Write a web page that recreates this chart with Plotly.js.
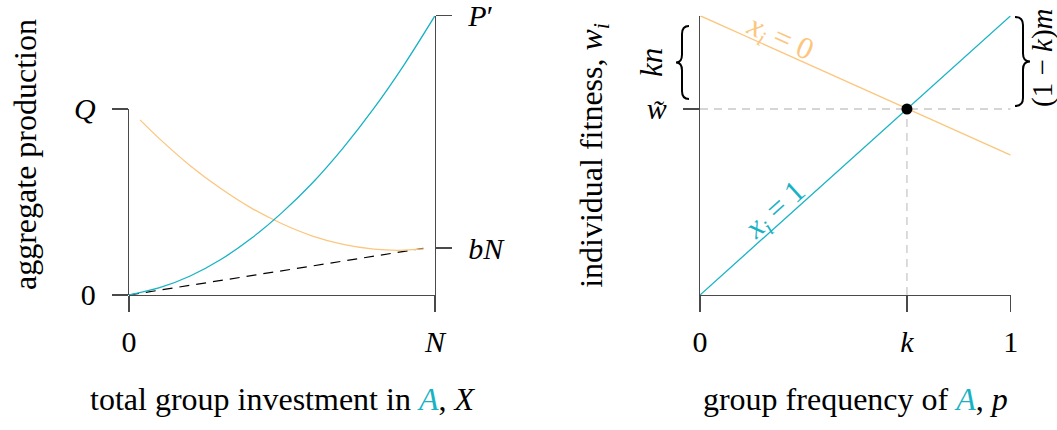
<!DOCTYPE html>
<html>
<head>
<meta charset="utf-8">
<script src="https://cdn.plot.ly/plotly-3.0.1.min.js"></script>
<style>html,body{margin:0;padding:0;background:#fff;}#chart{width:1057px;height:430px;}</style>
</head>
<body>
<div id="chart"></div>
<script>
// ---------- data (left panel: aggregate production vs X, X scaled so N = 1) ----------
const investX      = [0, 0.1, 0.2, 0.3, 0.4, 0.5, 0.6, 0.7, 0.8, 0.9, 1.0];
const productionA  = [0, 0.026, 0.068, 0.127, 0.203, 0.295, 0.402, 0.527, 0.668, 0.826, 1.0];
const investXB     = [0.036, 0.1, 0.2, 0.3, 0.4, 0.5, 0.6, 0.7, 0.8, 0.88, 0.964];
const productionB  = [0.627, 0.559, 0.463, 0.381, 0.311, 0.255, 0.211, 0.181, 0.164, 0.160, 0.165];
const dashX        = [0, 0.962];
const dashY        = [0, 0.167];
const Qval = 0.666, bNval = 0.168, Pval = 1.0;
const leftXTicks   = ['0', '<i>N</i>'];
const leftYTicks   = ['0', '<i>Q</i>'];
const rightYTicksL = ['<i>bN</i>', '<i>P</i>′'];

// ---------- data (right panel: individual fitness vs p) ----------
const freqP     = [0, 1];
const fitness1  = [0, 1];       // x_i = 1
const fitness0  = [1, 0.501];   // x_i = 0
const kVal = 0.666, wTilde = 0.666;
const rightXTicks = ['0', '<i>k</i>', '1'];
const rightYTicks = ['<i>w̃</i>'];

// ---------- styling ----------
const W = 1057, H = 430;
const TEAL = '#18b2c4', ORANGE = '#fcc67e', AX = '#4a4a4a';
const FONT = 'Liberation Serif';
const yb = 1 - 295 / H, yt = 1 - 15.7 / H;
const px = v => v / W, py = v => 1 - v / H;

const axBase = {
  showline: true, linecolor: AX, linewidth: 1.3,
  ticks: 'outside', ticklen: 16, tickwidth: 1.3, tickcolor: AX,
  showgrid: false, zeroline: false, fixedrange: true,
  tickfont: {family: FONT, size: 30, color: '#000'},
  tickmode: 'array', ticklabelstandoff: 10, ticklabeloverflow: 'allow'
};

const traces = [
  {x: dashX, y: dashY, xaxis: 'x', yaxis: 'y', mode: 'lines',
   line: {color: '#000', width: 1.2, dash: '10px,7px'}, hoverinfo: 'skip'},
  {x: investXB, y: productionB, xaxis: 'x', yaxis: 'y3', mode: 'lines',
   line: {color: ORANGE, width: 1.3, shape: 'spline'}, hoverinfo: 'skip'},
  {x: investX, y: productionA, xaxis: 'x', yaxis: 'y3', mode: 'lines',
   line: {color: TEAL, width: 1.3, shape: 'spline'}, hoverinfo: 'skip'},
  // right panel guides
  {x: [0, 1], y: [wTilde, wTilde], xaxis: 'x2', yaxis: 'y2', mode: 'lines',
   line: {color: '#c8c8c8', width: 1.3, dash: '8px,6px'}, hoverinfo: 'skip'},
  {x: [kVal, kVal], y: [0, wTilde], xaxis: 'x2', yaxis: 'y2', mode: 'lines',
   line: {color: '#c8c8c8', width: 1.3, dash: '8px,6px'}, hoverinfo: 'skip'},
  {x: freqP, y: fitness0, xaxis: 'x2', yaxis: 'y2', mode: 'lines',
   line: {color: ORANGE, width: 1.3}, hoverinfo: 'skip'},
  {x: freqP, y: fitness1, xaxis: 'x2', yaxis: 'y2', mode: 'lines',
   line: {color: TEAL, width: 1.3}, hoverinfo: 'skip'},
  {x: [kVal], y: [wTilde], xaxis: 'x2', yaxis: 'y2', mode: 'markers',
   marker: {color: '#000', size: 11}, cliponaxis: false, hoverinfo: 'skip'}
];

// brace path helper (pixel coords -> paper)
function brace(xe, xs, xt, y0, y1) {
  const ym = (y0 + y1) / 2, r = 8;
  const P = (x, y) => px(x).toFixed(5) + ',' + py(y).toFixed(5);
  return 'M ' + P(xe, y0) + ' Q ' + P(xs, y0) + ' ' + P(xs, y0 + r) +
         ' L ' + P(xs, ym - r) + ' Q ' + P(xs, ym) + ' ' + P(xt, ym) +
         ' Q ' + P(xs, ym) + ' ' + P(xs, ym + r) +
         ' L ' + P(xs, y1 - r) + ' Q ' + P(xs, y1) + ' ' + P(xe, y1);
}

const lineAt = (xs, ys, p) => ys[0] + (ys[1] - ys[0]) * (p - xs[0]) / (xs[1] - xs[0]);

const layout = {
  width: W, height: H, margin: {l: 0, r: 0, t: 0, b: 0},
  paper_bgcolor: '#fff', plot_bgcolor: 'rgba(0,0,0,0)',
  showlegend: false, font: {family: FONT, color: '#000'},
  xaxis: Object.assign({}, axBase, {
    domain: [px(129), px(435)], range: [0, 1], anchor: 'y3',
    tickvals: [0, 1], ticktext: leftXTicks, ticklabelstandoff: 4,
    title: {text: 'total group investment in <span style="color:' + TEAL + '"><i>A</i></span>, <i>X</i>',
            font: {family: FONT, size: 32, color: '#000'}, standoff: 30}
  }),
  yaxis: Object.assign({}, axBase, {
    domain: [yb, yb + Qval * (yt - yb)], range: [0, Qval], anchor: 'x', side: 'left',
    tickvals: [0, Qval], ticktext: leftYTicks
  }),
  yaxis3: Object.assign({}, axBase, {
    domain: [yb, yt], range: [0, 1], anchor: 'x', side: 'right',
    tickvals: [bNval, Pval], ticktext: rightYTicksL
  }),
  xaxis2: Object.assign({}, axBase, {
    domain: [px(700), px(1010.7)], range: [0, 1], anchor: 'y2',
    tickvals: [0, kVal, 1], ticktext: rightXTicks, ticklabelstandoff: 4,
    title: {text: 'group frequency of <span style="color:' + TEAL + '"><i>A</i></span>, <i>p</i>',
            font: {family: FONT, size: 32, color: '#000'}, standoff: 30}
  }),
  yaxis2: Object.assign({}, axBase, {
    domain: [yb, yt], range: [0, 1], anchor: 'x2', side: 'left',
    tickvals: [wTilde], ticktext: rightYTicks,
    title: {text: 'individual fitness, <i>w<sub>i</sub></i>',
            font: {family: FONT, size: 32, color: '#000'}, standoff: 34}
  }),
  annotations: [
    {xref: 'paper', yref: 'paper', x: px(25), y: py(155), text: 'aggregate production',
     textangle: -90, showarrow: false, xanchor: 'center', yanchor: 'middle',
     font: {family: FONT, size: 32, color: '#000'}},
    {xref: 'x2', yref: 'y2', x: 0.24, y: lineAt(freqP, fitness0, 0.24),
     text: '<i>x<sub>i</sub></i> = 0', textangle: 24.2, showarrow: false,
     xanchor: 'center', yanchor: 'middle', xshift: 5, yshift: 10,
     font: {family: FONT, size: 31, color: ORANGE}},
    {xref: 'x2', yref: 'y2', x: 0.27, y: lineAt(freqP, fitness1, 0.27),
     text: '<i>x<sub>i</sub></i> = 1', textangle: -42, showarrow: false,
     xanchor: 'center', yanchor: 'middle', xshift: -8, yshift: 9,
     font: {family: FONT, size: 31, color: TEAL}},
    {xref: 'paper', yref: 'paper', x: px(652), y: py(63), text: '<i>kn</i>',
     textangle: -90, showarrow: false, xanchor: 'center', yanchor: 'middle',
     font: {family: FONT, size: 31, color: '#000'}},
    {xref: 'paper', yref: 'paper', x: px(1042), y: py(58), text: '(1 − <i>k</i>)<i>m</i>',
     textangle: -90, showarrow: false, xanchor: 'center', yanchor: 'middle',
     font: {family: FONT, size: 29, color: '#000'}}
  ],
  shapes: [
    {type: 'path', xref: 'paper', yref: 'paper', path: brace(689, 682, 676, 26, 99),
     line: {color: '#000', width: 2}},
    {type: 'path', xref: 'paper', yref: 'paper', path: brace(1015, 1023, 1030, 17, 106),
     line: {color: '#000', width: 2}}
  ]
};

Plotly.newPlot('chart', traces, layout, {staticPlot: true, displayModeBar: false});
</script>
</body>
</html>
